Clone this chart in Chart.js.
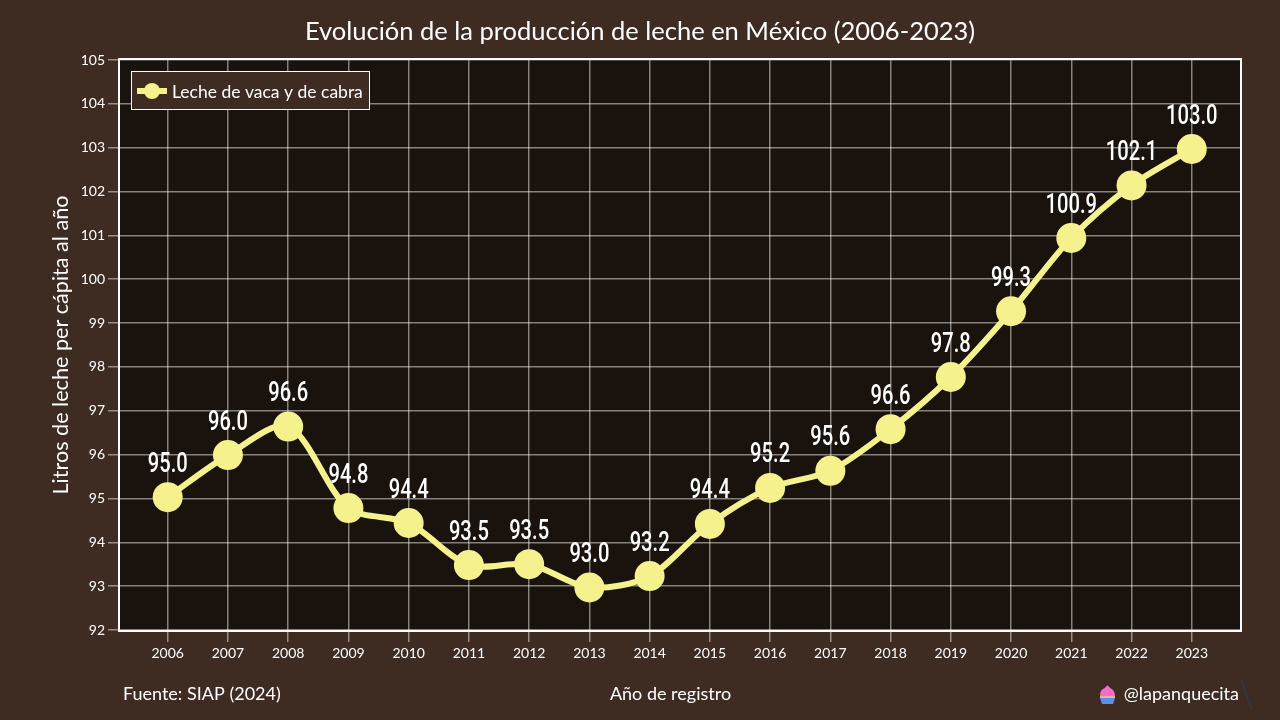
<!DOCTYPE html>
<html><head><meta charset="utf-8">
<style>html,body{margin:0;padding:0;background:#3e2c23}canvas{display:block}</style>
<script src="https://cdn.jsdelivr.net/npm/chart.js@4"></script>
</head><body>
<div style="width:1280px;height:720px"><canvas id="c" width="1280" height="720"></canvas></div>
<script>
const years=[2006,2007,2008,2009,2010,2011,2012,2013,2014,2015,2016,2017,2018,2019,2020,2021,2022,2023];
const values=[95.03,95.99,96.64,94.78,94.44,93.48,93.50,92.97,93.23,94.42,95.24,95.63,96.58,97.77,99.27,100.94,102.14,102.97];
const seriesName='Leche de vaca y de cabra';
const titleText='Evolución de la producción de leche en México (2006-2023)';
const yTitle='Litros de leche per cápita al año';
const xTitle='Año de registro';
const source='Fuente: SIAP (2024)';
const handle='@lapanquecita';
const BG='#3e2c23',PLOT='#1a120d',YEL='#f5f28e',W='#ffffff',GRID='rgba(255,255,255,0.47)';
const LATO='Lato, sans-serif';
const deco={id:'deco',
 beforeDraw(c){const g=c.ctx,a=c.chartArea;g.save();g.fillStyle=BG;g.fillRect(0,0,c.width,c.height);g.fillStyle=PLOT;g.fillRect(a.left,a.top,a.right-a.left,a.bottom-a.top);g.restore();},
 afterDatasetsDraw(c){const g=c.ctx,m=c.getDatasetMeta(0);g.save();
  g.strokeStyle=W;g.lineWidth=2;g.strokeRect(119,59,1122,572);
  // title
  g.fillStyle=W;g.textAlign='center';g.textBaseline='middle';g.font='25.5px '+LATO;g.fillText(titleText,640,32);
  // value labels (condensed)
  g.font='500 28px Roboto, "Liberation Sans", sans-serif';
  m.data.forEach((p,i)=>{g.save();g.translate(p.x,p.y-32.5);g.scale(0.72,1);g.fillText(values[i].toFixed(1),0,0);g.restore();});
  // legend
  g.fillStyle=BG;g.fillRect(131.5,71.5,238,38);g.strokeStyle=W;g.lineWidth=1;g.strokeRect(131.5,71.5,238,38);
  g.strokeStyle=YEL;g.lineWidth=6;g.beginPath();g.moveTo(137,91);g.lineTo(167,91);g.stroke();
  g.fillStyle=YEL;g.beginPath();g.arc(152,91,8,0,Math.PI*2);g.fill();
  g.fillStyle=W;g.textAlign='left';g.font='17.5px '+LATO;g.fillText(seriesName,172,92);
  // footer
  g.font='18px '+LATO;g.textBaseline='middle';
  g.fillText(source,123,694);
  g.textAlign='center';g.fillText(xTitle,670.5,694);
  g.textAlign='right';g.fillText(handle,1239,694);
  // cupcake badge
  g.fillStyle='#f56ccb';g.beginPath();g.moveTo(1100,696);g.quadraticCurveTo(1100,689,1105,688);g.quadraticCurveTo(1107,683,1110,688);g.quadraticCurveTo(1115,690,1115,696);g.closePath();g.fill();
  g.fillStyle='#e9b27f';g.fillRect(1100,696,15,2);
  g.fillStyle='#5b8df2';g.beginPath();g.moveTo(1100,698);g.lineTo(1115,698);g.lineTo(1113,704);g.lineTo(1102,704);g.closePath();g.fill();
  // stray stroke
  g.strokeStyle='#2c3c58';g.lineWidth=1;g.beginPath();g.moveTo(1241.5,680);g.lineTo(1251.5,709);g.stroke();
  g.restore();}
};
new Chart(document.getElementById('c'),{
 type:'line',
 data:{datasets:[{label:seriesName,data:years.map((x,i)=>({x,y:values[i]})),borderColor:YEL,backgroundColor:YEL,borderWidth:6,pointRadius:15,pointHoverRadius:15,pointBackgroundColor:YEL,pointBorderWidth:0,tension:0.3}]},
 options:{responsive:false,animation:false,
  layout:{padding:{left:0,right:39,top:60,bottom:0}},
  plugins:{legend:{display:false},tooltip:{enabled:false},title:{display:false}},
  scales:{
   x:{type:'linear',min:2005.175,max:2023.817,
    afterBuildTicks(s){s.ticks=years.map(v=>({value:v}));},
    afterFit(s){s.height=90;},
    grid:{color:GRID,lineWidth:1.5,tickLength:12,tickColor:GRID,tickWidth:1.5},border:{display:false},
    ticks:{color:W,font:{family:LATO,size:14},maxRotation:0,autoSkip:false,padding:3,callback:v=>String(v)}},
   y:{min:92,max:105,
    afterFit(s){s.width=118;},
    grid:{color:GRID,lineWidth:1.5,tickLength:10,tickColor:GRID,tickWidth:1.5},border:{display:false},
    ticks:{stepSize:1,color:W,font:{family:LATO,size:14},padding:3},
    title:{display:true,text:yTitle,color:W,font:{family:LATO,size:21.6,weight:'normal'},padding:{top:48,bottom:0}}}
  }},
 plugins:[deco]
});
</script></body></html>
